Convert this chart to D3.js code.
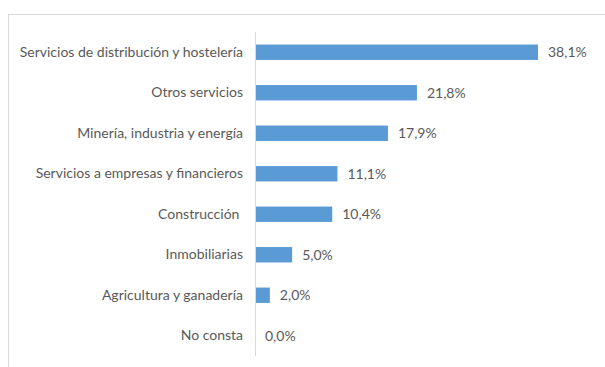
<!DOCTYPE html>
<html>
<head>
<meta charset="utf-8">
<script src="https://cdn.jsdelivr.net/npm/d3@7"></script>
<style>
  html, body { margin: 0; padding: 0; background: #fff; }
  svg { display: block; }
</style>
</head>
<body>
<svg id="chart" width="605" height="367"></svg>
<script>
// Sectores de actividad (porcentaje sobre el total)
const categories = [
  "Servicios de distribución y hostelería",
  "Otros servicios",
  "Minería, industria y energía",
  "Servicios a empresas y financieros",
  "Construcción ",
  "Inmobiliarias",
  "Agricultura y ganadería",
  "No consta"
];
const values = [38.1, 21.8, 17.9, 11.1, 10.4, 5.0, 2.0, 0.0];

const svg = d3.select("#chart");
const W = 605, H = 367;
const margin = { left: 255, top: 32, bottom: 11 };
const plotH = H - margin.top - margin.bottom;

const FONT = "Lato, 'Open Sans', sans-serif";
const TEXT = "#595959";

// Outer chart frame
svg.append("rect")
  .attr("x", 8.5).attr("y", 14.5)
  .attr("width", W + 20).attr("height", H + 20)
  .attr("fill", "none").attr("stroke", "#d9d9d9").attr("stroke-width", 1);

const x = d3.scaleLinear().domain([0, 38.1]).range([0, 283]);
const y = d3.scaleBand().domain(categories).range([0, plotH]).paddingInner(0.62).paddingOuter(0.31);

const g = svg.append("g").attr("transform", `translate(${margin.left},${margin.top})`);

// Bars
g.selectAll("rect.bar")
  .data(values)
  .join("rect")
  .attr("class", "bar")
  .attr("x", 0)
  .attr("y", (d, i) => y(categories[i]))
  .attr("width", d => x(d))
  .attr("height", y.bandwidth())
  .attr("fill", "#5b9bd5");

// Category axis
const axis = g.append("g").call(d3.axisLeft(y).tickSize(0).tickPadding(12));
axis.select(".domain").attr("stroke", "#d9d9d9").attr("d", `M0.5,0V${plotH}`);
axis.selectAll("text")
  .attr("fill", TEXT)
  .style("font-family", FONT)
  .style("font-size", "14px")
  .style("white-space", "pre");

// Value labels
const fmt = v => v.toFixed(1).replace(".", ",") + "%";
g.selectAll("text.val")
  .data(values)
  .join("text")
  .attr("class", "val")
  .attr("x", d => x(d) + 10)
  .attr("y", (d, i) => y(categories[i]) + y.bandwidth() / 2)
  .attr("dy", "0.35em")
  .attr("fill", TEXT)
  .style("font-family", FONT)
  .style("font-size", "14px")
  .text(fmt);
</script>
</body>
</html>
